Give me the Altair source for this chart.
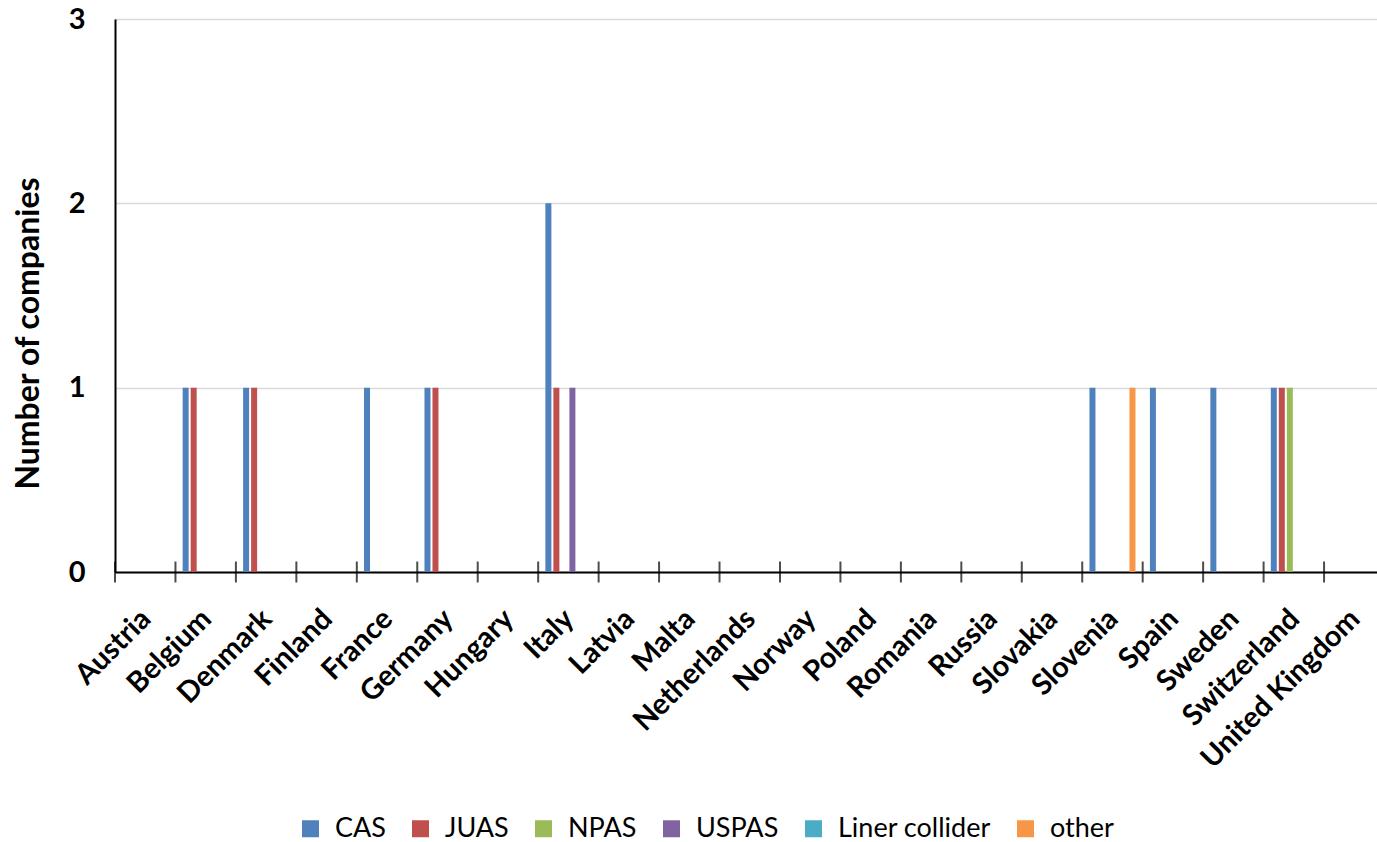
import altair as alt
import pandas as pd

# Countries along the x axis (in display order)
countries = [
    "Austria", "Belgium", "Denmark", "Finland", "France", "Germany", "Hungary",
    "Italy", "Latvia", "Malta", "Netherlands", "Norway", "Poland", "Romania",
    "Russia", "Slovakia", "Slovenia", "Spain", "Sweden", "Switzerland",
    "United Kingdom",
]

# Schools / programmes (series)
series = ["CAS", "JUAS", "NPAS", "USPAS", "Liner collider", "other"]
series_colors = ["#4F81BD", "#C0504D", "#9BBB59", "#8064A2", "#4BACC6", "#F79646"]

# Number of companies per country for each series
cas = [0, 1, 1, 0, 1, 1, 0, 2, 0, 0, 0, 0, 0, 0, 0, 0, 1, 1, 1, 1, 0]
juas = [0, 1, 1, 0, 0, 1, 0, 1, 0, 0, 0, 0, 0, 0, 0, 0, 0, 0, 0, 1, 0]
npas = [0, 0, 0, 0, 0, 0, 0, 0, 0, 0, 0, 0, 0, 0, 0, 0, 0, 0, 0, 1, 0]
uspas = [0, 0, 0, 0, 0, 0, 0, 1, 0, 0, 0, 0, 0, 0, 0, 0, 0, 0, 0, 0, 0]
liner = [0] * len(countries)
other = [0, 0, 0, 0, 0, 0, 0, 0, 0, 0, 0, 0, 0, 0, 0, 0, 1, 0, 0, 0, 0]

y_ticks = [0, 1, 2, 3]

values = {"CAS": cas, "JUAS": juas, "NPAS": npas, "USPAS": uspas,
          "Liner collider": liner, "other": other}

rows = []
for s in series:
    for c, v in zip(countries, values[s]):
        rows.append({"country": c, "school": s, "count": v})
df = pd.DataFrame(rows)
df_countries = pd.DataFrame({"country": countries})

FONT = "Lato"

x_scale = alt.Scale(domain=countries, range=[0, 1269.5], paddingInner=0, paddingOuter=0)

bars = alt.Chart(df).mark_bar().encode(
    x=alt.X(
        "country:N",
        sort=countries,
        scale=x_scale,
        axis=alt.Axis(
            title=None,
            labelAngle=-45,
            labelAlign="right",
            labelBaseline="top",
            labelFont=FONT,
            labelFontWeight="bold",
            labelFontSize=29,
            labelColor="black",
            labelPadding=32,
            labelOffset=-9,
            labelLimit=0,
            labelOverlap=False,
            labelBound=False,
            ticks=False,
            domainColor="black",
            domainWidth=2,
            grid=False,
        ),
    ),
    xOffset=alt.XOffset(
        "school:N",
        sort=series,
        scale=alt.Scale(domain=series, paddingInner=0.25, paddingOuter=0.9),
    ),
    y=alt.Y(
        "count:Q",
        scale=alt.Scale(domain=[0, 3], nice=False),
        axis=alt.Axis(
            title="Number of companies",
            values=y_ticks,
            format="d",
            labelFont=FONT,
            labelFontWeight="bold",
            labelFontSize=29,
            labelColor="black",
            labelPadding=30,
            ticks=False,
            domainColor="black",
            domainWidth=2,
            grid=True,
            gridColor="#D9D9D9",
            gridWidth=1.5,
            titleFont=FONT,
            titleFontWeight="bold",
            titleFontSize=32,
            titleColor="black",
            titleAngle=270,
            titleAlign="center",
            titleBaseline="middle",
            titleX=-87,
            titleY=314,
        ),
    ),
    color=alt.Color(
        "school:N",
        sort=series,
        scale=alt.Scale(domain=series, range=series_colors),
        legend=alt.Legend(
            title=None,
            orient="none",
            direction="horizontal",
            columns=6,
            legendX=182,
            legendY=796,
            symbolType="square",
            symbolSize=289,
            symbolStrokeWidth=0,
            symbolOpacity=1,
            labelFont=FONT,
            labelFontSize=27,
            labelColor="black",
            labelOffset=11,
            columnPadding=21,
        ),
    ),
)

# Category separator ticks crossing the x axis
ticks = alt.Chart(df_countries).mark_tick(
    orient="vertical", size=21, thickness=2, color="black"
).encode(
    x=alt.X("country:N", sort=countries, bandPosition=0, scale=x_scale),
    y=alt.datum(0),
)

chart = alt.layer(bars, ticks).properties(
    width=1262,
    height=553,
    autosize=alt.AutoSizeParams(type="none"),
    padding={"left": 115, "top": 19, "right": 0, "bottom": 270},
).configure_view(stroke=None).configure(background="white")

chart.save("out.html", embed_options={"renderer": "svg", "actions": False})
